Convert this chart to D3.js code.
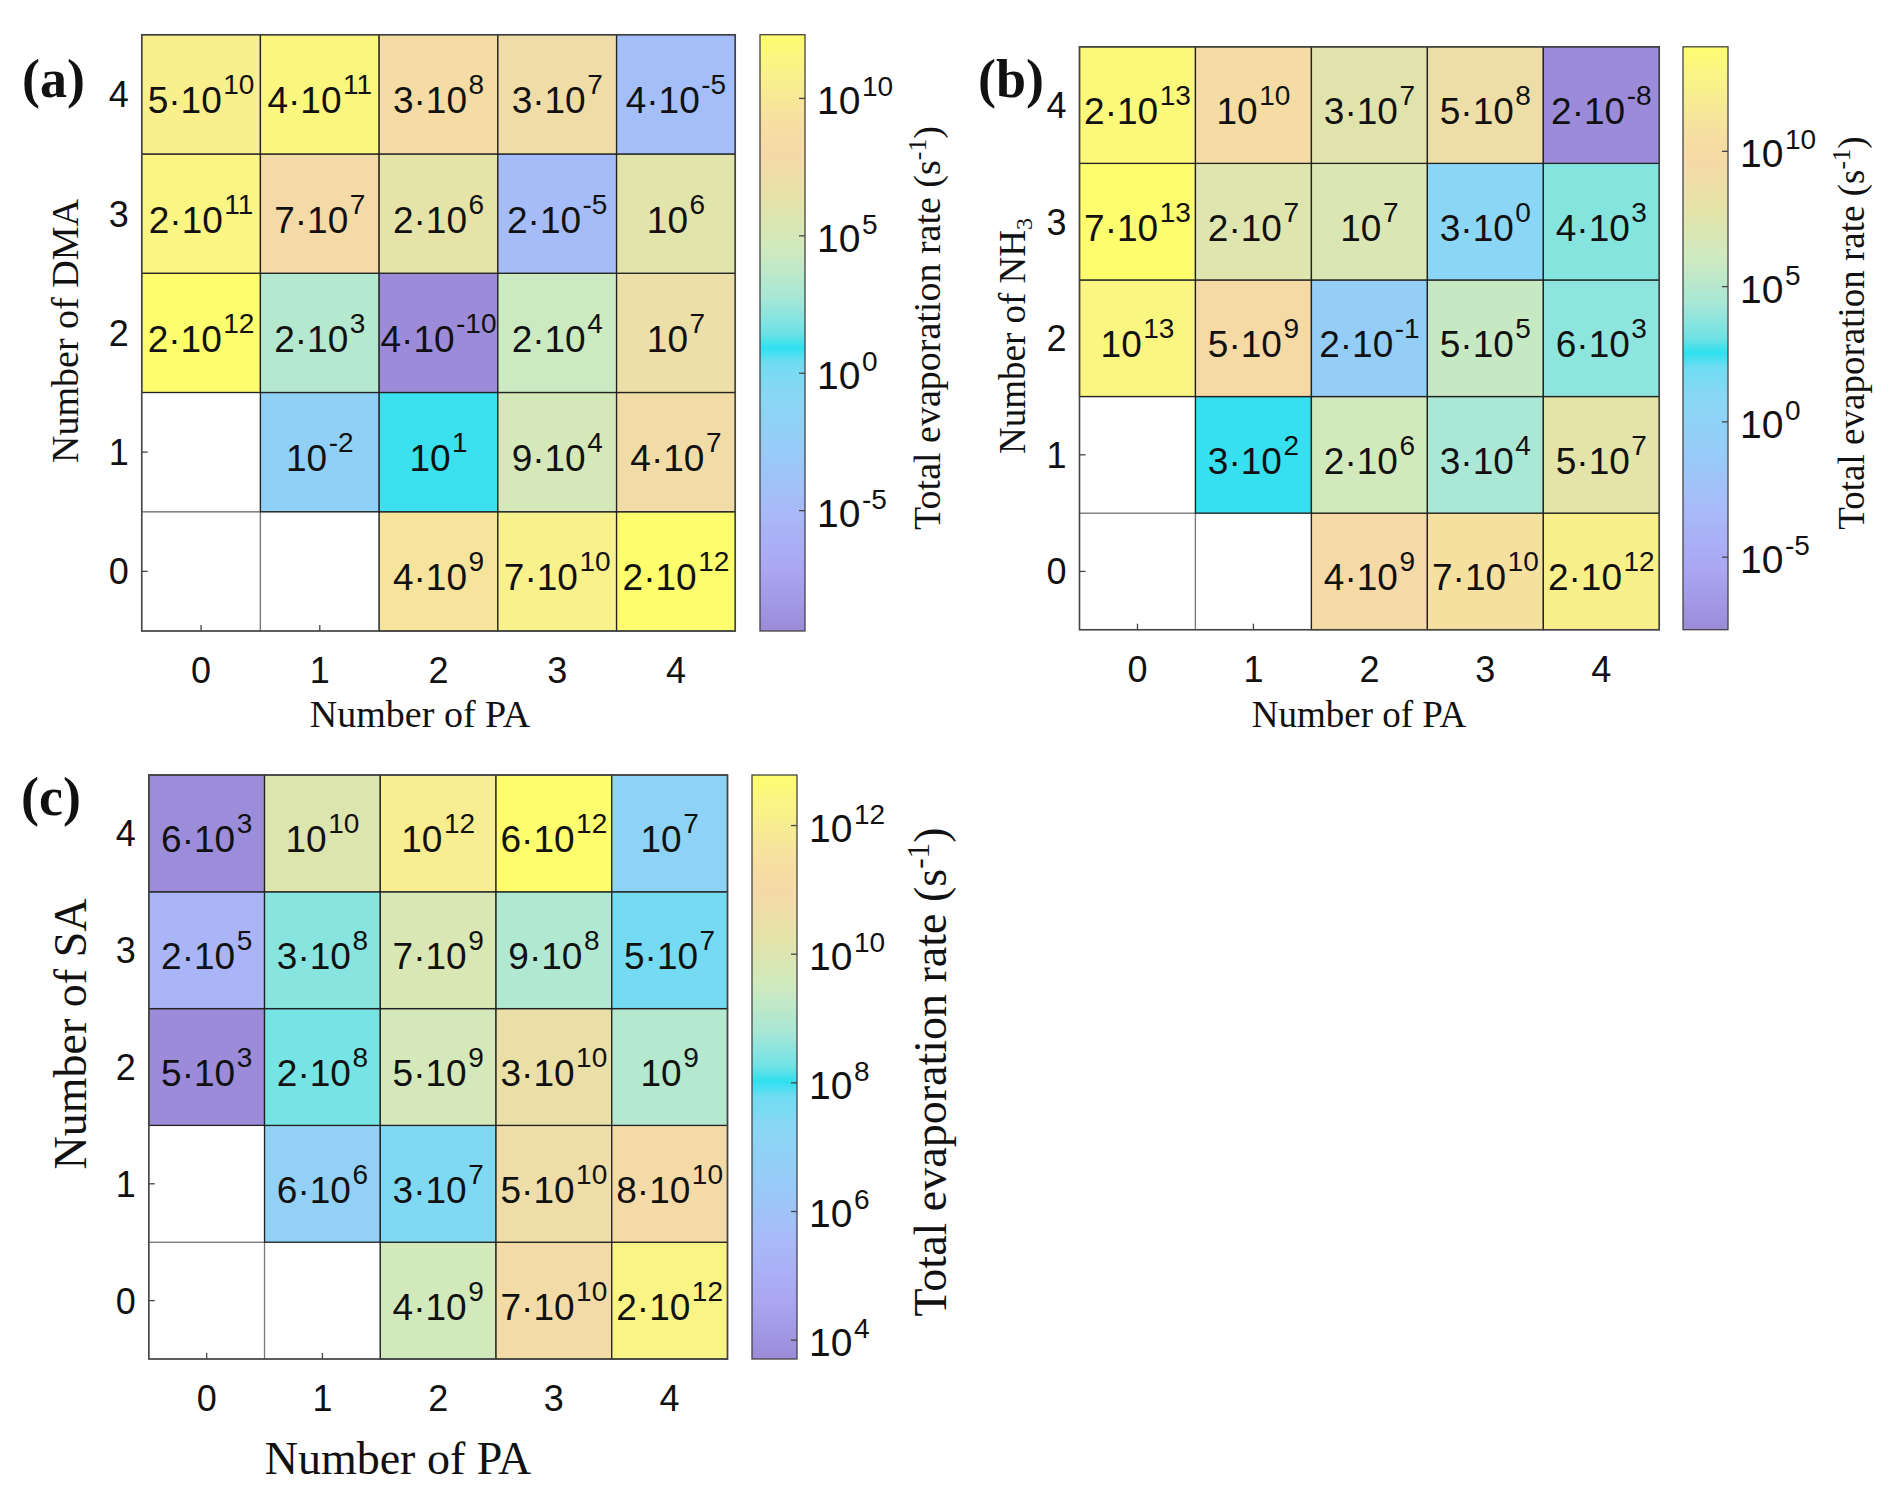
<!DOCTYPE html>
<html><head><meta charset="utf-8">
<script src="https://cdn.jsdelivr.net/npm/d3@7"></script>
<style>body{margin:0;background:#fff} svg{display:block}</style>
</head><body>
<svg id="fig" width="1892" height="1501"></svg>
<script>
// ---------- data ----------
const paCounts = [0, 1, 2, 3, 4];          // x categories (Number of PA)
const partnerCounts = [0, 1, 2, 3, 4];     // y categories (DMA / NH3 / SA)
// rows: partner count 0 (bottom) .. 4 (top); null = no cluster
const ratesDMA = [
  [null, null, 4e9, 7e10, 2e12],
  [null, 1e-2, 1e1, 9e4, 4e7],
  [2e12, 2e3, 4e-10, 2e4, 1e7],
  [2e11, 7e7, 2e6, 2e-5, 1e6],
  [5e10, 4e11, 3e8, 3e7, 4e-5]
];
const ratesNH3 = [
  [null, null, 4e9, 7e10, 2e12],
  [null, 3e2, 2e6, 3e4, 5e7],
  [1e13, 5e9, 2e-1, 5e5, 6e3],
  [7e13, 2e7, 1e7, 3e0, 4e3],
  [2e13, 1e10, 3e7, 5e8, 2e-8]
];
const ratesSA = [
  [null, null, 4e9, 7e10, 2e12],
  [null, 6e6, 3e7, 5e10, 8e10],
  [5e3, 2e8, 5e9, 3e10, 1e9],
  [2e5, 3e8, 7e9, 9e8, 5e7],
  [6e3, 1e10, 1e12, 6e12, 1e7]
];
const cbTicksDMA = [-5, 0, 5, 10];   // exponents
const cbTicksNH3 = [-5, 0, 5, 10];
const cbTicksSA = [4, 6, 8, 10, 12];

// ---------- colormap ----------
const cmapPos = [0, 0.1, 0.2, 0.3, 0.4, 0.45, 0.475, 0.5, 0.56, 0.64, 0.72, 0.8, 0.86, 0.91, 0.96, 1];
const cmapCol = ["#9b8bd8", "#aaa6f2", "#a9b9f9", "#98cbf8", "#88d7f4", "#70dcf2", "#2fe0ef",
                 "#6fe2e6", "#a8e7d6", "#cfeabf", "#e4e3a8", "#f5d9a6", "#f6e0a0", "#f8ec92", "#fbf682", "#fdfd6e"];
const cmap = d3.scaleLinear().domain(cmapPos).range(cmapCol).interpolate(d3.interpolateRgb).clamp(true);

const SANS = "'Liberation Sans', Arial, Helvetica, sans-serif";
const SERIF = "'Liberation Serif', 'Times New Roman', Times, serif";

const svg = d3.select("#fig");
svg.append("rect").attr("width", 1892).attr("height", 1501).attr("fill", "#fff");

function splitSci(v) {
  const e = Math.floor(Math.log10(v) + 1e-9);
  const m = Math.round(v / Math.pow(10, e));
  return { m, e };
}
function sciText(sel, m, e, supSize, raise) {
  sel.append("tspan").text(m === 1 ? "10" : m + "\u00B710");
  sel.append("tspan").attr("font-size", supSize).attr("dy", -raise).attr("dx", 1.5).text(String(e));
}

function drawPanel(cfg) {
  const g = svg.append("g");
  const x = d3.scaleBand().domain(paCounts).range([cfg.x0, cfg.x1]);
  const y = d3.scaleBand().domain(partnerCounts).range([cfg.y1, cfg.y0]);
  const flat = cfg.data.flat().filter(v => v != null);
  const lo = Math.log10(d3.min(flat)), hi = Math.log10(d3.max(flat));
  const tScale = d3.scaleLinear().domain([lo, hi]).range([0, 1]);
  const color = v => cmap(tScale(Math.log10(v)));
  const cells = [];
  cfg.data.forEach((row, i) => row.forEach((v, j) => cells.push({ px: paCounts[j], n: partnerCounts[i], v })));

  // empty cells
  g.selectAll("rect.empty").data(cells.filter(c => c.v == null)).join("rect")
    .attr("class", "empty")
    .attr("x", d => x(d.px)).attr("y", d => y(d.n))
    .attr("width", x.bandwidth()).attr("height", y.bandwidth())
    .attr("fill", "#fff").attr("stroke", "#777").attr("stroke-width", 1.2);

  // axes (inward ticks)
  const ax = g.append("g").attr("transform", `translate(0,${cfg.y1})`)
    .call(d3.axisBottom(x).tickSizeInner(-6).tickSizeOuter(0));
  ax.select(".domain").remove();
  ax.selectAll("line").attr("stroke", "#444").attr("stroke-width", 1.3);
  ax.selectAll("text").attr("y", 52).attr("dy", null)
    .attr("font-family", SANS).attr("font-size", 36).attr("fill", "#111");

  const ay = g.append("g").attr("transform", `translate(${cfg.x0},0)`)
    .call(d3.axisLeft(y).tickSizeInner(-6).tickSizeOuter(0));
  ay.select(".domain").remove();
  ay.selectAll("line").attr("stroke", "#444").attr("stroke-width", 1.3);
  ay.selectAll("text").attr("x", -13).attr("dy", "0.36em")
    .attr("font-family", SANS).attr("font-size", 36).attr("fill", "#111");

  // filled cells
  g.selectAll("rect.cell").data(cells.filter(c => c.v != null)).join("rect")
    .attr("class", "cell")
    .attr("x", d => x(d.px)).attr("y", d => y(d.n))
    .attr("width", x.bandwidth()).attr("height", y.bandwidth())
    .attr("fill", d => color(d.v)).attr("stroke", "#222").attr("stroke-width", 1.3);

  // cell labels
  cells.filter(c => c.v != null).forEach(d => {
    const { m, e } = splitSci(d.v);
    const t = g.append("text")
      .attr("x", x(d.px) + x.bandwidth() / 2)
      .attr("y", y(d.n) + y.bandwidth() / 2 + 19)
      .attr("text-anchor", "middle")
      .attr("font-family", SANS).attr("font-size", 37).attr("fill", "#111");
    sciText(t, m, e, 28, 19);
  });

  // frame
  g.append("rect").attr("x", cfg.x0).attr("y", cfg.y0)
    .attr("width", cfg.x1 - cfg.x0).attr("height", cfg.y1 - cfg.y0)
    .attr("fill", "none").attr("stroke", "#444").attr("stroke-width", 1.5);

  // colorbar
  const gid = "grad" + cfg.id;
  const grad = svg.append("defs").append("linearGradient").attr("id", gid)
    .attr("x1", 0).attr("y1", 1).attr("x2", 0).attr("y2", 0);
  d3.range(0, 1.0001, 0.0125).forEach(t => grad.append("stop").attr("offset", t).attr("stop-color", cmap(t)));
  g.append("rect").attr("x", cfg.cb0).attr("y", cfg.y0)
    .attr("width", cfg.cb1 - cfg.cb0).attr("height", cfg.y1 - cfg.y0)
    .attr("fill", `url(#${gid})`).attr("stroke", "#444").attr("stroke-width", 1.3);
  const cy = d3.scaleLinear().domain([lo, hi]).range([cfg.y1, cfg.y0]);
  const ac = g.append("g").attr("transform", `translate(${cfg.cb1},0)`)
    .call(d3.axisRight(cy).tickValues(cfg.ticks).tickSizeInner(-6).tickSizeOuter(0).tickFormat(""));
  ac.select(".domain").remove();
  ac.selectAll("line").attr("stroke", "#444").attr("stroke-width", 1.3);
  ac.selectAll("text").each(function (d) {
    const t = d3.select(this).attr("x", 12).attr("y", 16).attr("dy", null)
      .attr("font-family", SANS).attr("font-size", 39).attr("fill", "#111");
    sciText(t, 1, d, 28, 18);
  });

  // labels
  g.append("text").attr("x", cfg.xlx).attr("y", cfg.xly).attr("text-anchor", "middle")
    .attr("font-family", SERIF).attr("font-size", cfg.lfs).attr("fill", "#111").text("Number of PA");
  const yl = g.append("text").attr("transform", `translate(${cfg.ylx},${cfg.yly}) rotate(-90)`)
    .attr("text-anchor", "middle").attr("font-family", SERIF).attr("font-size", cfg.lfs).attr("fill", "#111");
  yl.append("tspan").text(cfg.ylabel);
  if (cfg.ysub) yl.append("tspan").attr("font-size", cfg.lfs * 0.65).attr("dy", cfg.lfs * 0.2).text(cfg.ysub);
  const cl = g.append("text").attr("transform", `translate(${cfg.clx},${cfg.cly}) rotate(-90)`)
    .attr("text-anchor", "middle").attr("font-family", SERIF).attr("font-size", cfg.lfs).attr("fill", "#111");
  cl.append("tspan").text("Total evaporation rate (s");
  cl.append("tspan").attr("font-size", cfg.lfs * 0.68).attr("dy", -cfg.lfs * 0.38).text("-1");
  cl.append("tspan").attr("dy", cfg.lfs * 0.38).text(")");
  g.append("text").attr("x", cfg.lx).attr("y", cfg.ly)
    .attr("font-family", SERIF).attr("font-weight", "bold").attr("font-size", 54).attr("fill", "#111")
    .text(cfg.letter);
}

drawPanel({ id: "a", data: ratesDMA, ticks: cbTicksDMA, letter: "(a)",
  x0: 141.7, x1: 735.3, y0: 34.7, y1: 631, cb0: 760, cb1: 805,
  lfs: 38, xlx: 420, xly: 727, ylabel: "Number of DMA", ylx: 78, yly: 331,
  clx: 940, cly: 328, lx: 22, ly: 97 });
drawPanel({ id: "b", data: ratesNH3, ticks: cbTicksNH3, letter: "(b)", ysub: "3",
  x0: 1079.5, x1: 1659.3, y0: 46.8, y1: 629.7, cb0: 1683, cb1: 1728,
  lfs: 37, xlx: 1359, xly: 727, ylabel: "Number of NH", ylx: 1025, yly: 336,
  clx: 1864, cly: 333, lx: 978, ly: 97 });
drawPanel({ id: "c", data: ratesSA, ticks: cbTicksSA, letter: "(c)",
  x0: 148.8, x1: 727.5, y0: 775, y1: 1359, cb0: 752, cb1: 797,
  lfs: 46, xlx: 398, xly: 1474, ylabel: "Number of SA", ylx: 86, yly: 1034,
  clx: 946, cly: 1072, lx: 21, ly: 815 });
</script>
</body></html>
